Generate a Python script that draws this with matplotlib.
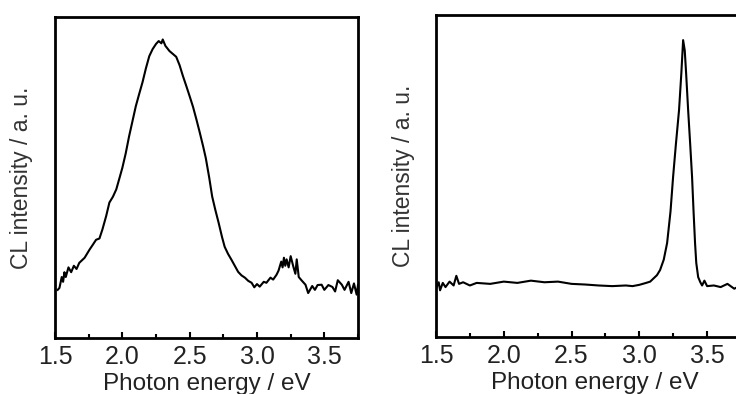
import matplotlib
matplotlib.use("Agg")
import matplotlib.pyplot as plt
from matplotlib.ticker import MultipleLocator, NullFormatter

plt.rcParams['font.family'] = ['Liberation Sans', 'DejaVu Sans']

# ---- data (intensity in arbitrary units) ----
left_energy = [1.52, 1.533, 1.55, 1.56, 1.57, 1.58, 1.6, 1.62, 1.64, 1.66, 1.68, 1.72, 1.756, 1.78,
               1.805, 1.83, 1.852, 1.88, 1.904, 1.93, 1.955, 1.98, 2.0, 2.025, 2.05, 2.075, 2.1,
               2.125, 2.15, 2.175, 2.2, 2.225, 2.25, 2.27, 2.29, 2.3, 2.32, 2.35, 2.375, 2.4, 2.425,
               2.45, 2.475, 2.5, 2.525, 2.55, 2.575, 2.6, 2.62, 2.645, 2.667, 2.69, 2.715, 2.74,
               2.76, 2.785, 2.81, 2.835, 2.86, 2.885, 2.91, 2.935, 2.96, 2.98, 3.0, 3.02, 3.05,
               3.07, 3.1, 3.12, 3.145, 3.16, 3.18, 3.19, 3.2, 3.21, 3.22, 3.235, 3.25, 3.27, 3.285,
               3.295, 3.31, 3.33, 3.36, 3.38, 3.41, 3.43, 3.45, 3.48, 3.5, 3.53, 3.56, 3.58, 3.6,
               3.63, 3.65, 3.68, 3.7, 3.72, 3.74, 3.75]
left_intensity = [0.150, 0.156, 0.19, 0.175, 0.205, 0.19, 0.22, 0.205, 0.225, 0.215, 0.234, 0.25,
                  0.275, 0.29, 0.306, 0.31, 0.338, 0.38, 0.422, 0.44, 0.463, 0.50, 0.53, 0.575,
                  0.628, 0.675, 0.722, 0.76, 0.797, 0.84, 0.878, 0.90, 0.916, 0.925, 0.918, 0.93,
                  0.91, 0.894, 0.885, 0.876, 0.85, 0.816, 0.785, 0.753, 0.72, 0.681, 0.64, 0.597,
                  0.56, 0.50, 0.441, 0.40, 0.359, 0.315, 0.284, 0.262, 0.244, 0.225, 0.206, 0.195,
                  0.188, 0.178, 0.172, 0.158, 0.168, 0.16, 0.175, 0.172, 0.188, 0.182, 0.197, 0.21,
                  0.238, 0.22, 0.25, 0.225, 0.245, 0.22, 0.255, 0.222, 0.20, 0.245, 0.19, 0.18,
                  0.166, 0.14, 0.162, 0.15, 0.165, 0.166, 0.15, 0.165, 0.159, 0.145, 0.18, 0.166,
                  0.15, 0.175, 0.14, 0.17, 0.135, 0.165]

right_energy = [1.5, 1.52, 1.53, 1.55, 1.57, 1.6, 1.63, 1.65, 1.67, 1.7, 1.75, 1.8, 1.9, 2.0, 2.1,
                2.2, 2.3, 2.4, 2.5, 2.6, 2.7, 2.8, 2.9, 2.95, 3.0, 3.05, 3.08, 3.1, 3.13, 3.153,
                3.18, 3.205, 3.23, 3.249, 3.27, 3.293, 3.31, 3.323, 3.335, 3.345, 3.36, 3.375,
                3.389, 3.40, 3.411, 3.42, 3.434, 3.45, 3.463, 3.48, 3.5, 3.55, 3.6, 3.65, 3.7, 3.75]
right_intensity = [0.15, 0.17, 0.145, 0.168, 0.155, 0.172, 0.16, 0.19, 0.165, 0.17, 0.16, 0.168,
                   0.165, 0.172, 0.168, 0.175, 0.17, 0.172, 0.165, 0.163, 0.16, 0.158, 0.16, 0.158,
                   0.162, 0.168, 0.172, 0.18, 0.192, 0.208, 0.24, 0.292, 0.39, 0.497, 0.60, 0.705,
                   0.82, 0.922, 0.89, 0.82, 0.705, 0.60, 0.497, 0.39, 0.292, 0.23, 0.186, 0.17,
                   0.16, 0.175, 0.158, 0.16, 0.155, 0.165, 0.15, 0.16]

x_ticks = [1.5, 2.0, 2.5, 3.0, 3.5]
x_tick_labels = ["1.5", "2.0", "2.5", "3.0", "3.5"]
x_label = "Photon energy / eV"
y_label = "CL intensity / a. u."

W, H = 736, 394
fig = plt.figure(figsize=(W / 100, H / 100), dpi=100)

def px_axes(l, t, r, b):
    return fig.add_axes([l / W, 1 - b / H, (r - l) / W, (b - t) / H])

ax1 = px_axes(55, 17, 358, 338)
ax2 = px_axes(436, 15, 741, 337)

text_color = '#222222'
for ax, xe, yi, xlab_x in ((ax1, left_energy, left_intensity, 0.5),
                           (ax2, right_energy, right_intensity, 0.52)):
    ax.plot(xe, yi, color='black', lw=1.5)
    ax.set_xlim(1.5, 3.75)
    ax.set_ylim(0, 1)
    ax.set_xticks(x_ticks)
    ax.set_xticklabels(x_tick_labels)
    ax.xaxis.set_minor_locator(MultipleLocator(0.25))
    ax.xaxis.set_minor_formatter(NullFormatter())
    ax.tick_params(axis='x', which='major', direction='in', length=4, width=1.5,
                   labelsize=18, pad=5, labelcolor=text_color, top=False)
    ax.tick_params(axis='x', which='minor', direction='in', length=3, width=1.5, top=False)
    ax.set_yticks([])
    for s in ax.spines.values():
        s.set_linewidth(2.0)
    ax.set_xlabel(x_label, fontsize=17.5, color=text_color, va='baseline')
    ax.xaxis.set_label_coords(xlab_x, -0.162)
    ax.set_ylabel(y_label, fontsize=16.5, color='#333333')

ax1.yaxis.set_label_coords(-22 / 303, 0.5)
ax2.yaxis.set_label_coords(-21 / 305, 0.5)

fig.savefig("out.png", dpi=100)
